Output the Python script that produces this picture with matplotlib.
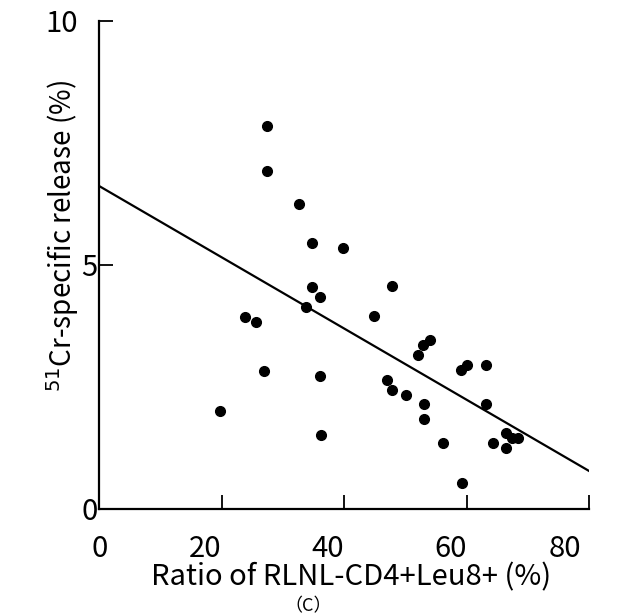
import matplotlib.pyplot as plt
import matplotlib.transforms as mtransforms

plt.rcParams['font.family'] = ['Noto Sans CJK JP', 'DejaVu Sans']

# scatter values
ratio = [27.4, 27.5, 32.6, 34.7, 39.8, 34.8, 36.0, 33.8, 47.8, 44.9,
         23.8, 25.7, 26.9, 36.1, 19.8, 36.2, 54.0, 52.9, 52.1, 47.0,
         47.9, 50.1, 53.1, 53.1, 56.2, 59.1, 60.1, 63.2, 63.2, 59.3,
         64.3, 66.4, 66.4, 67.4, 68.4]
release = [7.84, 6.93, 6.25, 5.45, 5.35, 4.55, 4.35, 4.14, 4.57, 3.96,
           3.93, 3.83, 2.83, 2.73, 2.01, 1.52, 3.46, 3.36, 3.16, 2.65,
           2.44, 2.34, 2.15, 1.84, 1.35, 2.85, 2.96, 2.96, 2.15, 0.54,
           1.35, 1.55, 1.25, 1.45, 1.46]

# regression line end points
fit_x = [0, 80]
fit_y = [6.62, 0.78]

x_ticks = [0, 20, 40, 60, 80]
y_ticks = [0, 5, 10]

fig = plt.figure(figsize=(6.19, 6.16), dpi=100)
ax = fig.add_axes([99 / 619, 1 - 509 / 616, 490 / 619, 488 / 616])

ax.plot(fit_x, fit_y, color='black', linewidth=1.6)
ax.plot(ratio, release, 'o', color='black', markersize=7, clip_on=False)

ax.set_xlim(0, 80)
ax.set_ylim(0, 10)
ax.spines['top'].set_visible(False)
ax.spines['right'].set_visible(False)
for s in ['left', 'bottom']:
    ax.spines[s].set_linewidth(1.6)

ax.set_xticks(x_ticks)
ax.set_yticks(y_ticks)
ax.tick_params(direction='in', length=10, width=1.3, labelsize=21)
ax.tick_params(axis='x', pad=18)
ax.tick_params(axis='y', pad=1)

# the scanned labels sit a little off their ticks
x_shift = [1, -16, -16, -16, -24]
for lab, dx in zip(ax.get_xticklabels(), x_shift):
    lab.set_transform(lab.get_transform() + mtransforms.ScaledTranslation(dx / 100, 0, fig.dpi_scale_trans))
y_shift = [0, 0, -20]
for lab, dx in zip(ax.get_yticklabels(), y_shift):
    lab.set_transform(lab.get_transform() + mtransforms.ScaledTranslation(dx / 100, 0, fig.dpi_scale_trans))

ax.set_xlabel('Ratio of RLNL-CD4+Leu8+ (%)', fontsize=21)
ax.xaxis.set_label_coords(0.515, -0.11)
ax.set_ylabel(r'$^{51}$Cr-specific release (%)', fontsize=20)
ax.yaxis.set_label_coords(-0.036, 0.56)

fig.text(308 / 619, 1 - 606 / 616, '（C）', fontsize=13, ha='center', va='center')

fig.savefig('out.png', dpi=100)
